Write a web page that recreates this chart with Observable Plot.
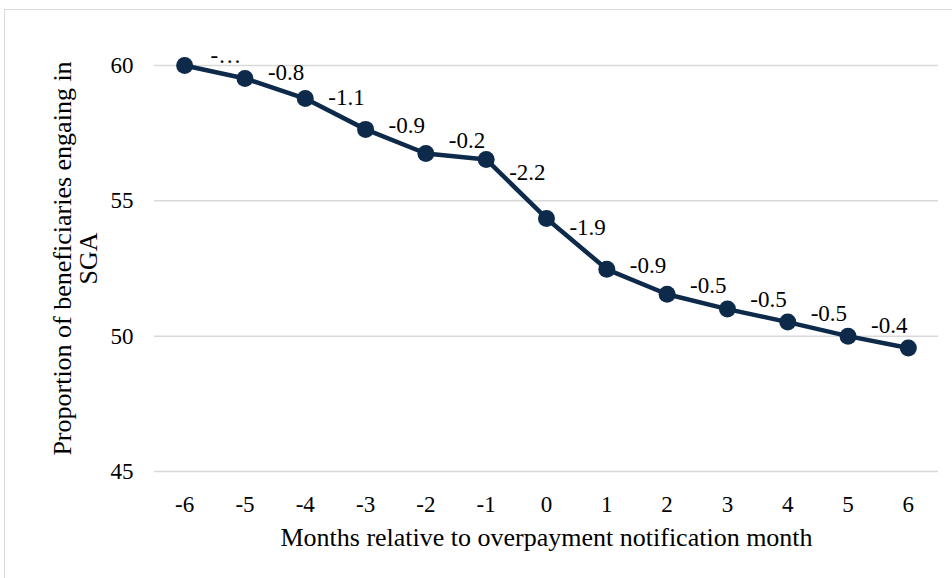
<!DOCTYPE html>
<html>
<head>
<meta charset="utf-8">
<script src="https://cdn.jsdelivr.net/npm/d3@7"></script>
<script src="https://cdn.jsdelivr.net/npm/@observablehq/plot@0.6"></script>
<style>
  html, body { margin: 0; padding: 0; background: #fff; overflow: hidden; }
  #wrap { position: relative; width: 952px; height: 578px; }
  #border { position: absolute; left: 4px; top: 9px; width: 1000px; height: 1000px;
            border: 1.5px solid #d9d9d9; box-sizing: border-box; pointer-events: none; }
  svg text { font-family: "Liberation Serif", "Times New Roman", serif !important; }
</style>
</head>
<body>
<div id="wrap"><div id="border"></div></div>
<script>
// Data
const months = [-6, -5, -4, -3, -2, -1, 0, 1, 2, 3, 4, 5, 6];
const proportion = [60.0, 59.52, 58.78, 57.64, 56.75, 56.53, 54.35, 52.47, 51.55, 51.0, 50.52, 50.0, 49.56];
// month-to-month change labels (shown on each segment; first one is truncated in the original)
const changeLabels = ["-\u2026", "-0.8", "-1.1", "-0.9", "-0.2", "-2.2", "-1.9", "-0.9", "-0.5", "-0.5", "-0.5", "-0.4"];
const yTicks = [45, 50, 55, 60];
const xTitle = "Months relative to overpayment notification month";
const yTitle = "Proportion of beneficiaries engaing in\nSGA";

const data = months.map((m, i) => ({month: m, value: proportion[i]}));
// each change label sits on the segment from month i to month i+1
const segLabels = changeLabels.map((t, i) => ({
  x: (months[i] + months[i + 1]) / 2,
  y: (proportion[i] + proportion[i + 1]) / 2,
  text: t
}));
const navy = "#0d2a4b";
const serif = "Liberation Serif";

const chart = Plot.plot({
  width: 952,
  height: 578,
  marginLeft: 154,
  marginRight: 14,
  marginTop: 65,
  marginBottom: 107,
  style: {fontFamily: serif, fontSize: "23px", color: "#000", background: "transparent"},
  x: {type: "linear", domain: [-6.5, 6.5]},
  y: {domain: [45, 60]},
  marks: [
    Plot.gridY(yTicks, {stroke: "#d9d9d9", strokeOpacity: 1, strokeWidth: 1.5}),
    Plot.axisY(yTicks, {tickSize: 0, tickPadding: 21, label: null, fontSize: 23, fontFamily: serif}),
    Plot.axisX(months, {tickSize: 0, tickPadding: 24, label: null, fontSize: 23, fontFamily: serif, tickFormat: d => String(d)}),
    Plot.line(data, {x: "month", y: "value", stroke: navy, strokeWidth: 4.5}),
    Plot.dot(data, {x: "month", y: "value", r: 8.5, fill: navy, stroke: "none"}),
    Plot.text(segLabels, {x: "x", y: "y", text: "text", dx: 11, dy: -16, fontSize: 23, fontFamily: serif, fill: "#000"}),
    Plot.text([xTitle], {frameAnchor: "bottom", dy: 66, lineAnchor: "middle", textAnchor: "middle", fontSize: 26, fontFamily: serif, fill: "#000"}),
    Plot.text([yTitle], {frameAnchor: "left", dx: -79, dy: -10, rotate: -90, lineAnchor: "middle", textAnchor: "middle", fontSize: 26, fontFamily: serif, lineHeight: 1.0, fill: "#000"})
  ]
});
chart.style.position = "absolute";
chart.style.left = "0px";
chart.style.top = "0px";
document.getElementById("wrap").appendChild(chart);
</script>
</body>
</html>
